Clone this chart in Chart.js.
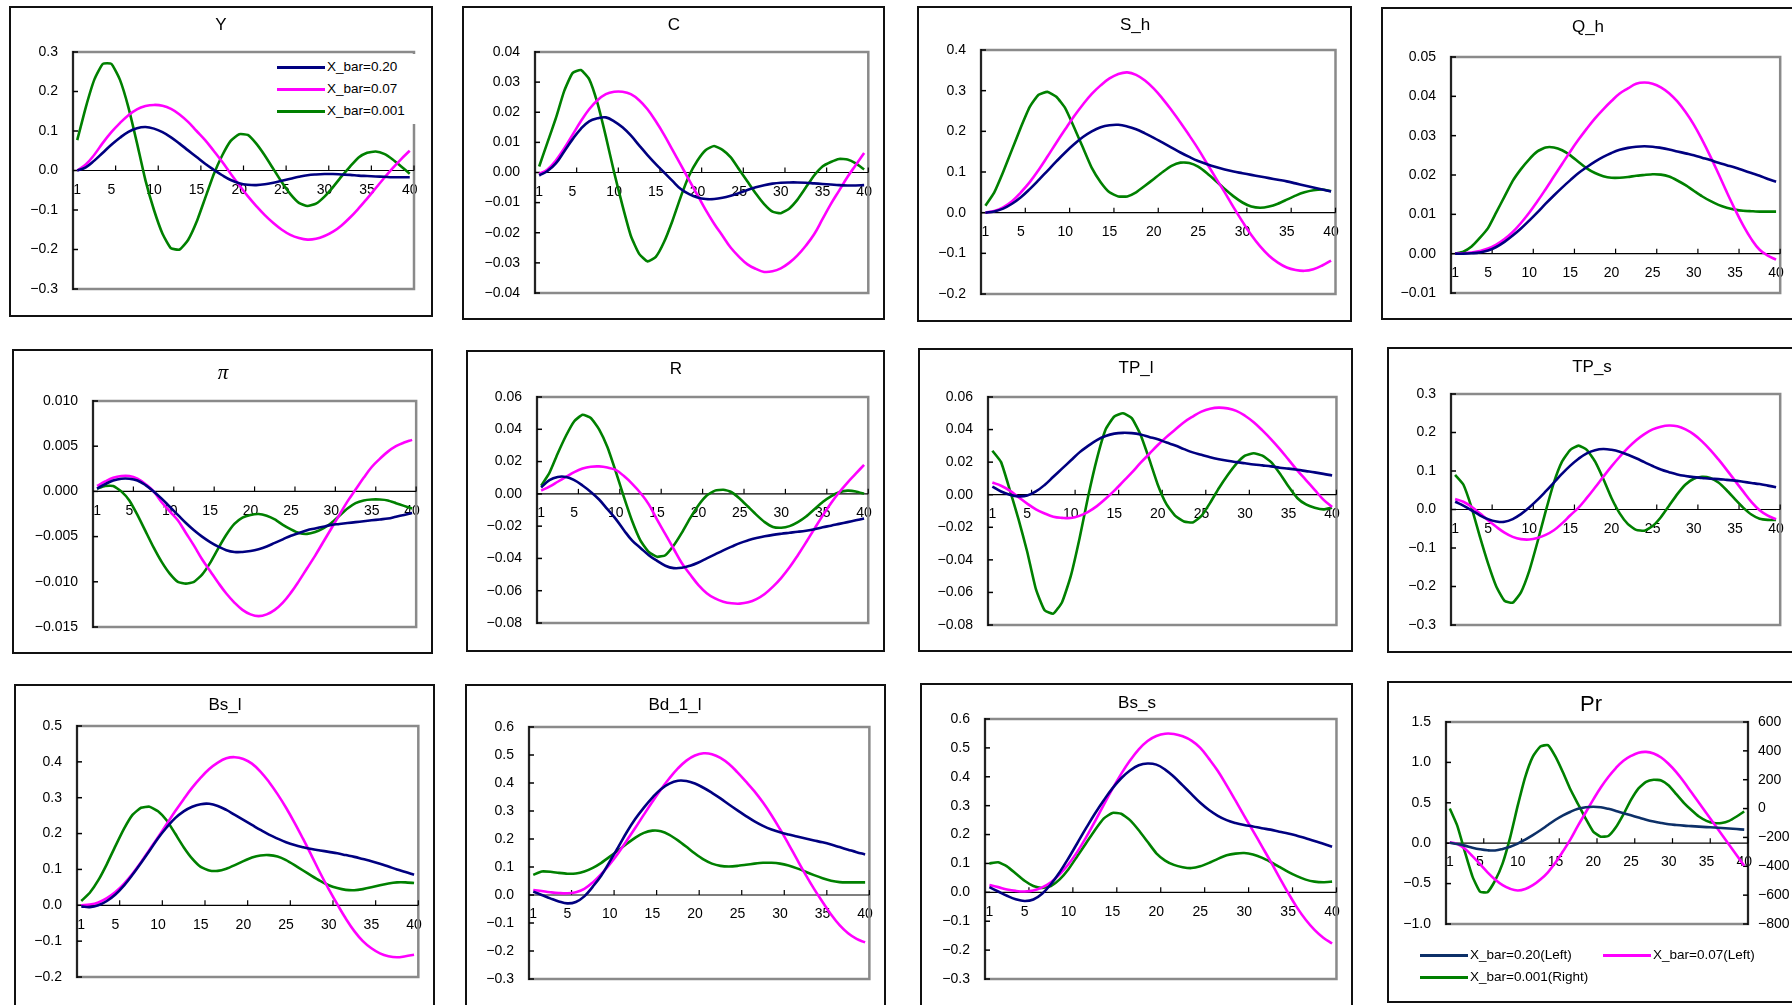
<!DOCTYPE html>
<html>
<head>
<meta charset="utf-8">
<script src="https://cdn.jsdelivr.net/npm/chart.js@4.4.1/dist/chart.umd.min.js"></script>
<style>
  body { margin: 0; background: #fff; width: 1792px; height: 1005px; overflow: hidden; position: relative;
         font-family: "Liberation Sans", Arial, sans-serif; }
  .panel { position: absolute; border: 2px solid #111; box-sizing: border-box; background: #fff; }
  .panel canvas { position: absolute; left: 0; top: 0; }
  .ttl { position: absolute; transform: translate(-50%, -50%); font-size: 17px; color: #000; white-space: nowrap; }
  .lg { position: absolute; background: #fff; }
  .lg-item { position: absolute; font-size: 13.5px; white-space: nowrap; line-height: 16px; }
  .sw { position: absolute; height: 3px; }
</style>
</head>
<body>
<script>
// ---------- data ----------
const periods = [1,2,3,4,5,6,7,8,9,10,11,12,13,14,15,16,17,18,19,20,
                 21,22,23,24,25,26,27,28,29,30,31,32,33,34,35,36,37,38,39,40];
const xTickLabels = [1, 5, 10, 15, 20, 25, 30, 35, 40];
const seriesNames = ['X_bar=0.20', 'X_bar=0.07', 'X_bar=0.001'];
const prSeriesNames = ['X_bar=0.20(Left)', 'X_bar=0.07(Left)', 'X_bar=0.001(Right)'];

// Y
const Y_020  = [0.0,0.008,0.025,0.045,0.065,0.083,0.098,0.107,0.110,0.106,0.097,0.084,0.068,0.051,0.034,0.017,0.002,-0.012,-0.024,-0.032,-0.036,-0.037,-0.035,-0.031,-0.026,-0.021,-0.016,-0.012,-0.010,-0.009,-0.009,-0.010,-0.011,-0.013,-0.014,-0.015,-0.016,-0.017,-0.017,-0.017];
const Y_007  = [0.0,0.015,0.04,0.07,0.097,0.12,0.14,0.155,0.163,0.166,0.164,0.156,0.142,0.123,0.1,0.077,0.05,0.022,-0.008,-0.037,-0.065,-0.09,-0.113,-0.133,-0.15,-0.163,-0.171,-0.175,-0.173,-0.166,-0.155,-0.139,-0.119,-0.096,-0.071,-0.045,-0.019,0.006,0.029,0.05];
const Y_0001 = [0.077,0.16,0.23,0.27,0.27,0.23,0.16,0.07,-0.025,-0.1,-0.16,-0.197,-0.2,-0.176,-0.13,-0.07,-0.01,0.038,0.075,0.092,0.09,0.068,0.038,0.004,-0.03,-0.06,-0.082,-0.09,-0.084,-0.066,-0.042,-0.015,0.01,0.033,0.045,0.048,0.042,0.028,0.01,-0.008];
// C
const C_020  = [-0.001,0.0005,0.003,0.007,0.011,0.0145,0.017,0.018,0.0183,0.017,0.015,0.0123,0.009,0.0058,0.0028,0.0,-0.0028,-0.0055,-0.0072,-0.0083,-0.0088,-0.0088,-0.0084,-0.0077,-0.0068,-0.0058,-0.0049,-0.0042,-0.0037,-0.0034,-0.0033,-0.0033,-0.0034,-0.0036,-0.0038,-0.004,-0.0042,-0.0043,-0.0043,-0.0042];
const C_007  = [-0.0005,0.001,0.004,0.008,0.0125,0.017,0.021,0.024,0.026,0.0268,0.0268,0.026,0.024,0.021,0.017,0.0125,0.0075,0.0025,-0.0025,-0.0075,-0.0125,-0.017,-0.021,-0.025,-0.028,-0.0305,-0.032,-0.033,-0.0328,-0.0318,-0.03,-0.0275,-0.0243,-0.0205,-0.0155,-0.0105,-0.006,-0.0015,0.0025,0.0065];
const C_0001 = [0.002,0.01,0.018,0.027,0.033,0.034,0.031,0.023,0.012,0.0,-0.011,-0.021,-0.027,-0.0295,-0.028,-0.023,-0.016,-0.008,-0.001,0.004,0.0075,0.0088,0.0075,0.005,0.001,-0.003,-0.007,-0.0105,-0.013,-0.0135,-0.012,-0.009,-0.005,-0.001,0.002,0.0035,0.0045,0.0043,0.003,0.001];
// S_h
const S_020  = [0.0,0.003,0.01,0.022,0.038,0.058,0.08,0.103,0.126,0.148,0.168,0.186,0.2,0.21,0.215,0.216,0.212,0.205,0.195,0.184,0.172,0.16,0.148,0.137,0.127,0.119,0.112,0.106,0.101,0.097,0.093,0.089,0.085,0.081,0.077,0.072,0.067,0.062,0.057,0.052];
const S_007  = [0.0,0.004,0.013,0.028,0.05,0.075,0.105,0.138,0.172,0.205,0.237,0.266,0.292,0.313,0.33,0.341,0.345,0.339,0.325,0.305,0.28,0.252,0.222,0.19,0.157,0.121,0.085,0.05,0.013,-0.022,-0.055,-0.083,-0.106,-0.123,-0.135,-0.141,-0.143,-0.139,-0.13,-0.118];
const S_0001 = [0.017,0.05,0.1,0.155,0.21,0.26,0.29,0.297,0.285,0.257,0.21,0.16,0.11,0.075,0.05,0.04,0.04,0.05,0.066,0.083,0.1,0.115,0.123,0.122,0.113,0.097,0.078,0.058,0.04,0.025,0.015,0.012,0.015,0.022,0.032,0.042,0.05,0.055,0.057,0.053];
// Q_h
const Q_020  = [0,0,0.0001,0.0003,0.0008,0.0017,0.003,0.0046,0.0064,0.0084,0.0105,0.0127,0.0148,0.0168,0.0187,0.0205,0.022,0.0234,0.0246,0.0256,0.0264,0.0269,0.0272,0.0273,0.0272,0.0269,0.0265,0.026,0.0255,0.025,0.0244,0.0238,0.0231,0.0225,0.0219,0.0212,0.0205,0.0198,0.019,0.0183];
const Q_007  = [0,0.0001,0.0003,0.0007,0.0013,0.0023,0.0037,0.0055,0.0078,0.0104,0.0133,0.0164,0.0196,0.0228,0.026,0.029,0.0318,0.0344,0.0367,0.0388,0.0407,0.042,0.0432,0.0435,0.0432,0.0423,0.0408,0.0387,0.036,0.0328,0.029,0.0248,0.0203,0.0157,0.0113,0.0072,0.0037,0.001,-0.0005,-0.0015];
const Q_0001 = [0,0.0005,0.0018,0.004,0.0065,0.0105,0.0145,0.0185,0.0215,0.024,0.026,0.027,0.027,0.0263,0.025,0.0233,0.0217,0.0205,0.0197,0.0193,0.0193,0.0195,0.0198,0.02,0.0202,0.0201,0.0196,0.0186,0.0174,0.016,0.0146,0.0134,0.0124,0.0117,0.0112,0.0109,0.0108,0.0107,0.0107,0.0107];
// pi
const P_020  = [0.0003,0.0008,0.0012,0.0014,0.0014,0.0012,0.0007,0.0,-0.0008,-0.0017,-0.0026,-0.0035,-0.0043,-0.005,-0.0056,-0.0061,-0.0065,-0.0067,-0.0067,-0.0066,-0.0064,-0.0061,-0.0057,-0.0053,-0.0049,-0.0046,-0.0043,-0.0041,-0.0039,-0.0037,-0.0036,-0.0035,-0.0034,-0.0033,-0.0032,-0.0031,-0.003,-0.0028,-0.0026,-0.0024];
const P_007  = [0.0006,0.0011,0.0015,0.0017,0.0017,0.0014,0.0008,0.0,-0.0012,-0.0022,-0.0032,-0.0046,-0.006,-0.0075,-0.0088,-0.0101,-0.0113,-0.0123,-0.0131,-0.0136,-0.0138,-0.0136,-0.0131,-0.0123,-0.0112,-0.0099,-0.0085,-0.0071,-0.0056,-0.0041,-0.0026,-0.0011,0.0002,0.0015,0.0027,0.0036,0.0044,0.005,0.0054,0.0057];
const P_0001 = [0.0003,0.0006,0.0006,0.0,-0.001,-0.0026,-0.0044,-0.0062,-0.0078,-0.0091,-0.01,-0.0102,-0.01,-0.0092,-0.0079,-0.0063,-0.0048,-0.0036,-0.0029,-0.0026,-0.0025,-0.0027,-0.0031,-0.0037,-0.0042,-0.0046,-0.0047,-0.0045,-0.0041,-0.0035,-0.0027,-0.0019,-0.0013,-0.001,-0.0009,-0.0009,-0.001,-0.0013,-0.0016,-0.0019];
// R
const R_020  = [0.004,0.0085,0.0105,0.0105,0.0085,0.0052,0.0012,-0.0035,-0.0095,-0.0155,-0.0225,-0.029,-0.0335,-0.038,-0.0415,-0.0445,-0.046,-0.0458,-0.0445,-0.0425,-0.04,-0.0375,-0.035,-0.0327,-0.0305,-0.0288,-0.0274,-0.0263,-0.0254,-0.0247,-0.0241,-0.0235,-0.0228,-0.0219,-0.0207,-0.0197,-0.0186,-0.0175,-0.0164,-0.0153];
const R_007  = [0.002,0.0045,0.0075,0.0105,0.0135,0.0157,0.0168,0.017,0.0163,0.0148,0.011,0.0062,0.0005,-0.0065,-0.016,-0.025,-0.034,-0.043,-0.05,-0.0565,-0.0615,-0.0648,-0.0668,-0.0678,-0.068,-0.0672,-0.0652,-0.062,-0.0575,-0.052,-0.0455,-0.038,-0.03,-0.0217,-0.0135,-0.0058,0.001,0.007,0.0125,0.018];
const R_0001 = [0.005,0.013,0.025,0.036,0.045,0.049,0.047,0.04,0.029,0.014,-0.002,-0.017,-0.029,-0.036,-0.039,-0.038,-0.032,-0.024,-0.015,-0.007,-0.001,0.002,0.0025,0.001,-0.003,-0.008,-0.013,-0.0175,-0.0205,-0.021,-0.02,-0.0175,-0.014,-0.0095,-0.005,-0.0015,0.001,0.002,0.0015,0.0];
// TP_l
const TL_020  = [0.005,0.002,0.0,-0.001,-0.0005,0.002,0.006,0.011,0.016,0.021,0.026,0.03,0.0335,0.036,0.0375,0.038,0.0378,0.037,0.0355,0.034,0.032,0.0302,0.028,0.026,0.0245,0.023,0.0218,0.0208,0.02,0.0193,0.0186,0.018,0.0174,0.0166,0.016,0.0153,0.0145,0.0137,0.0128,0.0118];
const TL_007  = [0.0075,0.0055,0.0025,-0.0015,-0.0055,-0.009,-0.0115,-0.0135,-0.0142,-0.0143,-0.013,-0.0105,-0.007,-0.0025,0.0025,0.008,0.0135,0.0195,0.025,0.0305,0.0355,0.04,0.0445,0.048,0.051,0.0528,0.0535,0.053,0.0515,0.0485,0.0445,0.0395,0.034,0.028,0.0215,0.015,0.009,0.003,-0.003,-0.0075];
const TL_0001 = [0.027,0.02,0.003,-0.015,-0.035,-0.058,-0.071,-0.073,-0.066,-0.05,-0.027,-0.001,0.022,0.04,0.048,0.05,0.047,0.037,0.022,0.006,-0.006,-0.013,-0.0165,-0.017,-0.013,-0.005,0.004,0.012,0.019,0.024,0.0255,0.024,0.02,0.013,0.005,-0.002,-0.006,-0.008,-0.009,-0.008];
// TP_s
const TS_020  = [0.02,0.01,-0.002,-0.015,-0.025,-0.031,-0.032,-0.025,-0.012,0.005,0.025,0.047,0.07,0.093,0.114,0.132,0.146,0.154,0.157,0.155,0.15,0.142,0.133,0.123,0.113,0.104,0.097,0.091,0.087,0.084,0.082,0.08,0.079,0.077,0.075,0.072,0.069,0.066,0.062,0.058];
const TS_007  = [0.027,0.02,0.007,-0.01,-0.028,-0.045,-0.06,-0.071,-0.077,-0.078,-0.074,-0.066,-0.054,-0.036,-0.015,0.005,0.03,0.057,0.085,0.112,0.137,0.16,0.18,0.196,0.208,0.215,0.218,0.216,0.208,0.195,0.177,0.155,0.13,0.103,0.075,0.047,0.02,-0.002,-0.016,-0.025];
const TS_0001 = [0.09,0.065,0.005,-0.07,-0.14,-0.2,-0.237,-0.242,-0.215,-0.16,-0.085,-0.005,0.07,0.125,0.155,0.166,0.155,0.125,0.08,0.03,-0.01,-0.038,-0.053,-0.055,-0.043,-0.02,0.01,0.04,0.065,0.08,0.085,0.082,0.07,0.05,0.027,0.005,-0.013,-0.024,-0.027,-0.027];
// Bs_l
const BL_020  = [-0.003,-0.005,0.0,0.012,0.03,0.055,0.085,0.118,0.152,0.187,0.217,0.243,0.262,0.275,0.282,0.283,0.277,0.266,0.252,0.238,0.224,0.21,0.197,0.186,0.176,0.168,0.162,0.157,0.153,0.149,0.145,0.14,0.135,0.129,0.123,0.116,0.108,0.1,0.093,0.085];
const BL_007  = [0.0,0.002,0.008,0.02,0.037,0.06,0.088,0.12,0.155,0.19,0.226,0.262,0.296,0.328,0.356,0.38,0.398,0.41,0.413,0.408,0.395,0.373,0.344,0.31,0.272,0.23,0.185,0.138,0.09,0.045,0.003,-0.037,-0.072,-0.1,-0.12,-0.134,-0.142,-0.145,-0.142,-0.138];
const BL_0001 = [0.012,0.035,0.07,0.115,0.165,0.213,0.252,0.272,0.275,0.262,0.237,0.2,0.162,0.13,0.107,0.097,0.096,0.102,0.112,0.123,0.133,0.139,0.14,0.136,0.126,0.112,0.097,0.082,0.068,0.056,0.048,0.043,0.042,0.045,0.05,0.056,0.061,0.064,0.064,0.062];
// Bd_1_l
const BD_020  = [0.012,0.0,-0.012,-0.023,-0.03,-0.025,-0.005,0.03,0.07,0.12,0.172,0.225,0.272,0.312,0.348,0.378,0.398,0.408,0.407,0.398,0.383,0.365,0.345,0.323,0.302,0.282,0.263,0.247,0.234,0.224,0.216,0.209,0.202,0.195,0.188,0.18,0.171,0.162,0.153,0.145];
const BD_007  = [0.018,0.014,0.01,0.007,0.006,0.01,0.022,0.045,0.075,0.11,0.15,0.195,0.24,0.287,0.333,0.377,0.417,0.452,0.48,0.498,0.506,0.503,0.49,0.468,0.438,0.405,0.37,0.33,0.285,0.235,0.182,0.127,0.073,0.022,-0.025,-0.07,-0.108,-0.137,-0.157,-0.169];
const BD_0001 = [0.072,0.084,0.083,0.079,0.076,0.077,0.084,0.097,0.115,0.137,0.16,0.183,0.205,0.222,0.23,0.228,0.215,0.195,0.172,0.148,0.127,0.112,0.104,0.102,0.104,0.108,0.112,0.115,0.115,0.112,0.105,0.095,0.083,0.071,0.06,0.051,0.046,0.045,0.045,0.045];
// Bs_s
const BS_020  = [0.018,0.003,-0.012,-0.024,-0.03,-0.025,-0.005,0.028,0.07,0.118,0.17,0.222,0.272,0.318,0.36,0.395,0.422,0.44,0.446,0.442,0.425,0.4,0.37,0.34,0.31,0.285,0.265,0.25,0.24,0.233,0.228,0.222,0.217,0.21,0.204,0.196,0.187,0.178,0.168,0.158];
const BS_007  = [0.025,0.018,0.01,0.005,0.003,0.006,0.017,0.035,0.062,0.097,0.14,0.19,0.245,0.302,0.358,0.41,0.456,0.495,0.524,0.541,0.549,0.548,0.54,0.525,0.5,0.462,0.42,0.37,0.318,0.265,0.213,0.16,0.107,0.052,-0.002,-0.052,-0.095,-0.13,-0.157,-0.177];
const BS_0001 = [0.1,0.104,0.09,0.065,0.04,0.022,0.015,0.022,0.045,0.08,0.125,0.17,0.215,0.255,0.275,0.272,0.25,0.215,0.175,0.135,0.11,0.095,0.087,0.084,0.09,0.102,0.116,0.128,0.134,0.136,0.131,0.12,0.105,0.088,0.071,0.056,0.044,0.037,0.035,0.037];
// Pr (green on right axis)
const PR_020  = [0.005,-0.01,-0.03,-0.055,-0.075,-0.088,-0.09,-0.072,-0.045,-0.005,0.045,0.1,0.16,0.225,0.29,0.345,0.39,0.425,0.445,0.452,0.445,0.425,0.4,0.372,0.345,0.317,0.29,0.268,0.25,0.235,0.225,0.217,0.211,0.205,0.199,0.194,0.188,0.182,0.175,0.168];
const PR_007  = [0.01,-0.01,-0.07,-0.16,-0.26,-0.36,-0.45,-0.52,-0.565,-0.585,-0.567,-0.52,-0.45,-0.36,-0.24,-0.1,0.05,0.22,0.38,0.54,0.69,0.82,0.93,1.02,1.08,1.12,1.13,1.11,1.06,0.98,0.88,0.76,0.63,0.5,0.37,0.24,0.11,-0.02,-0.15,-0.28];
const PR_0001 = [0,-120,-300,-470,-575,-580,-500,-380,-200,20,220,360,430,440,360,250,130,30,-70,-160,-195,-190,-130,-40,60,140,185,200,195,160,100,40,-10,-55,-85,-100,-100,-85,-55,-20];

// tick values of the value axes
const ticksY    = [-0.3,-0.2,-0.1,0,0.1,0.2,0.3];
const ticksC    = [-0.04,-0.03,-0.02,-0.01,0,0.01,0.02,0.03,0.04];
const ticksSh   = [-0.2,-0.1,0,0.1,0.2,0.3,0.4];
const ticksQh   = [-0.01,0,0.01,0.02,0.03,0.04,0.05];
const ticksPi   = [-0.015,-0.010,-0.005,0,0.005,0.010];
const ticksR    = [-0.08,-0.06,-0.04,-0.02,0,0.02,0.04,0.06];
const ticksTPl  = [-0.08,-0.06,-0.04,-0.02,0,0.02,0.04,0.06];
const ticksTPs  = [-0.3,-0.2,-0.1,0,0.1,0.2,0.3];
const ticksBsl  = [-0.2,-0.1,0,0.1,0.2,0.3,0.4,0.5];
const ticksBdl  = [-0.3,-0.2,-0.1,0,0.1,0.2,0.3,0.4,0.5,0.6];
const ticksBss  = [-0.3,-0.2,-0.1,0,0.1,0.2,0.3,0.4,0.5,0.6];
const ticksPrL  = [-1.0,-0.5,0,0.5,1.0,1.5];
const ticksPrR  = [-800,-600,-400,-200,0,200,400,600];

// ---------- layout / style ----------
const COLORS = ['#000080', '#ff00ff', '#008000'];
const FONT = '"Liberation Sans", Arial, sans-serif';
Chart.defaults.font.family = FONT;
Chart.defaults.font.size = 14;
Chart.defaults.color = '#000';

const panels = [
  { title: 'Y',      box: [9,6,424,311],     plot: [73,52,414,289],    tc: [221,25],  ticks: ticksY,   dec: 1, data: [Y_020, Y_007, Y_0001], legend: true },
  { title: 'C',      box: [462,6,423,314],   plot: [535,52,876,293],   tc: [674,25],  ticks: ticksC,   dec: 2, data: [C_020, C_007, C_0001] },
  { title: 'S_h',    box: [917,6,435,316],   plot: [981,50,1339,294],  tc: [1135,25], ticks: ticksSh,  dec: 1, data: [S_020, S_007, S_0001] },
  { title: 'Q_h',    box: [1381,7,416,313],  plot: [1451,57,1784,293], tc: [1588,27], ticks: ticksQh,  dec: 2, data: [Q_020, Q_007, Q_0001] },
  { title: 'π',      box: [12,349,421,305],  plot: [93,401,423,627],   tc: [223,372], ticks: ticksPi,  dec: 3, data: [P_020, P_007, P_0001], pi: true },
  { title: 'R',      box: [466,350,419,302], plot: [537,397,872,623],  tc: [676,369], ticks: ticksR,   dec: 2, data: [R_020, R_007, R_0001] },
  { title: 'TP_l',   box: [918,348,435,304], plot: [988,397,1342,625], tc: [1136,368], ticks: ticksTPl, dec: 2, data: [TL_020, TL_007, TL_0001] },
  { title: 'TP_s',   box: [1387,347,410,306], plot: [1451,394,1784,625], tc: [1592,367], ticks: ticksTPs, dec: 1, data: [TS_020, TS_007, TS_0001] },
  { title: 'Bs_l',   box: [14,684,421,330],  plot: [77,726,420,977],   tc: [225,705], ticks: ticksBsl, dec: 1, data: [BL_020, BL_007, BL_0001] },
  { title: 'Bd_1_l', box: [465,684,421,330], plot: [529,727,876,979],  tc: [675,705], ticks: ticksBdl, dec: 1, data: [BD_020, BD_007, BD_0001] },
  { title: 'Bs_s',   box: [920,683,433,330], plot: [985,719,1340,979], tc: [1137,703], ticks: ticksBss, dec: 1, data: [BS_020, BS_007, BS_0001] },
  { title: 'Pr',     box: [1387,681,410,322], plot: [1446,722,1748,924], tc: [1591,704], ticks: ticksPrL, dec: 1, data: [PR_020, PR_007, PR_0001], right: ticksPrR, big: true }
];

const fmt = (v, d) => {
  const s = Math.abs(v) < 1e-9 ? (0).toFixed(d) : v.toFixed(d);
  return s.replace('-', '\u2212');
};

// plot frame, axis lines and tick marks
const framePlugin = {
  id: 'frame',
  beforeDatasetsDraw(chart) {
    const { ctx, chartArea: a, scales } = chart;
    const ln = (x1, y1, x2, y2) => { ctx.beginPath(); ctx.moveTo(x1, y1); ctx.lineTo(x2, y2); ctx.stroke(); };
    ctx.save();
    ctx.strokeStyle = '#8a8a8a';
    ctx.lineWidth = 2.5;
    ctx.strokeRect(a.left, a.top, a.width, a.height);
    ctx.strokeStyle = '#000';
    ctx.lineWidth = 1.5;
    ln(a.left, a.top - 1, a.left, a.bottom + 1);
    scales.y.ticks.forEach(t => { const py = scales.y.getPixelForValue(t.value); ln(a.left, py, a.left + 5, py); });
    if (scales.y2) {
      ln(a.right, a.top - 1, a.right, a.bottom + 1);
      scales.y2.ticks.forEach(t => { const py = scales.y2.getPixelForValue(t.value); ln(a.right - 5, py, a.right, py); });
    }
    const zy = scales.y.getPixelForValue(0);
    ctx.lineWidth = 1.2;
    ln(a.left, zy, a.right, zy);
    for (let k = 5; k <= 40; k += 5) {
      const px = scales.x.getPixelForValue(k + 0.5);
      ln(px, zy, px, zy - 5);
    }
    ctx.restore();
  }
};

function addLegendItem(parent, x, y, color, text) {
  const sw = document.createElement('div');
  sw.className = 'sw';
  sw.style.cssText = `left:${x}px;top:${y - 1.5}px;width:48px;background:${color}`;
  parent.appendChild(sw);
  const t = document.createElement('div');
  t.className = 'lg-item';
  t.style.cssText = `left:${x + 50}px;top:${y - 8}px`;
  t.textContent = text;
  parent.appendChild(t);
}

function makePanel(p) {
  const [bx, by, bw, bh] = p.box;
  const div = document.createElement('div');
  div.className = 'panel';
  div.style.cssText = `left:${bx}px;top:${by}px;width:${bw}px;height:${bh}px`;
  document.body.appendChild(div);
  const cw = bw - 4, ch = bh - 4, ox = bx + 2, oy = by + 2;
  const cv = document.createElement('canvas');
  cv.width = cw; cv.height = ch;
  cv.style.width = cw + 'px'; cv.style.height = ch + 'px';
  div.appendChild(cv);

  const [pl, pt, pr, pb] = p.plot;
  const leftW = pl - ox;
  const rightW = cw - (pr - ox);

  const ttl = document.createElement('div');
  ttl.className = 'ttl';
  ttl.style.left = p.tc[0] + 'px';
  ttl.style.top = p.tc[1] + 'px';
  if (p.pi) { ttl.style.fontFamily = '"Liberation Serif", "DejaVu Serif", serif'; ttl.style.fontStyle = 'italic'; ttl.style.fontSize = '21px'; }
  if (p.big) ttl.style.fontSize = '22px';
  ttl.textContent = p.title;
  document.body.appendChild(ttl);

  const datasets = p.data.map((arr, i) => ({
    label: p.right ? prSeriesNames[i] : seriesNames[i],
    data: arr,
    borderColor: (p.right && i === 0) ? '#0d3068' : COLORS[i],
    borderWidth: 2.6,
    pointRadius: 0,
    tension: i === 2 ? 0.15 : 0.4,
    yAxisID: (p.right && i === 2) ? 'y2' : 'y'
  }));

  const scales = {
    x: {
      type: 'linear', min: 0.5, max: 40.5,
      position: { y: 0 },
      grid: { display: false, drawTicks: false }, border: { display: false },
      afterBuildTicks: s => { s.ticks = xTickLabels.map(v => ({ value: v })); },
      ticks: { autoSkip: false, maxRotation: 0, minRotation: 0, padding: 11, callback: v => String(v) }
    },
    y: {
      type: 'linear', position: 'left',
      min: p.ticks[0], max: p.ticks[p.ticks.length - 1],
      grid: { display: false, drawTicks: false }, border: { display: false },
      afterBuildTicks: s => { s.ticks = p.ticks.map(v => ({ value: v })); },
      afterFit: s => { s.width = leftW; },
      ticks: { padding: 15, callback: v => fmt(v, p.dec) }
    }
  };
  if (p.right) {
    scales.y2 = {
      type: 'linear', position: 'right',
      min: p.right[0], max: p.right[p.right.length - 1],
      grid: { display: false, drawTicks: false }, border: { display: false },
      afterBuildTicks: s => { s.ticks = p.right.map(v => ({ value: v })); },
      afterFit: s => { s.width = rightW; },
      ticks: { padding: 10, callback: v => fmt(v, 0) }
    };
  }

  new Chart(cv, {
    type: 'line',
    data: { labels: periods, datasets },
    options: {
      responsive: false,
      animation: false,
      layout: { padding: { left: 0, top: pt - oy, right: p.right ? 0 : rightW, bottom: ch - (pb - oy) } },
      plugins: { legend: { display: false }, tooltip: { enabled: false }, title: { display: false } },
      scales
    },
    plugins: [framePlugin]
  });

  if (p.legend) {
    const lg = document.createElement('div');
    lg.className = 'lg';
    lg.style.cssText = 'left:271px;top:54px;width:146px;height:70px';
    document.body.appendChild(lg);
    [67, 89, 111].forEach((y, i) => addLegendItem(lg, 6, y - 54, COLORS[i], seriesNames[i]));
  }
  if (p.right) {
    const lg = document.createElement('div');
    lg.className = 'lg';
    lg.style.cssText = 'left:1400px;top:940px;width:380px;height:50px;background:transparent';
    document.body.appendChild(lg);
    addLegendItem(lg, 20, 15, '#0d3068', prSeriesNames[0]);
    addLegendItem(lg, 203, 15, COLORS[1], prSeriesNames[1]);
    addLegendItem(lg, 20, 37, COLORS[2], prSeriesNames[2]);
  }
}

panels.forEach(makePanel);
</script>
</body>
</html>
